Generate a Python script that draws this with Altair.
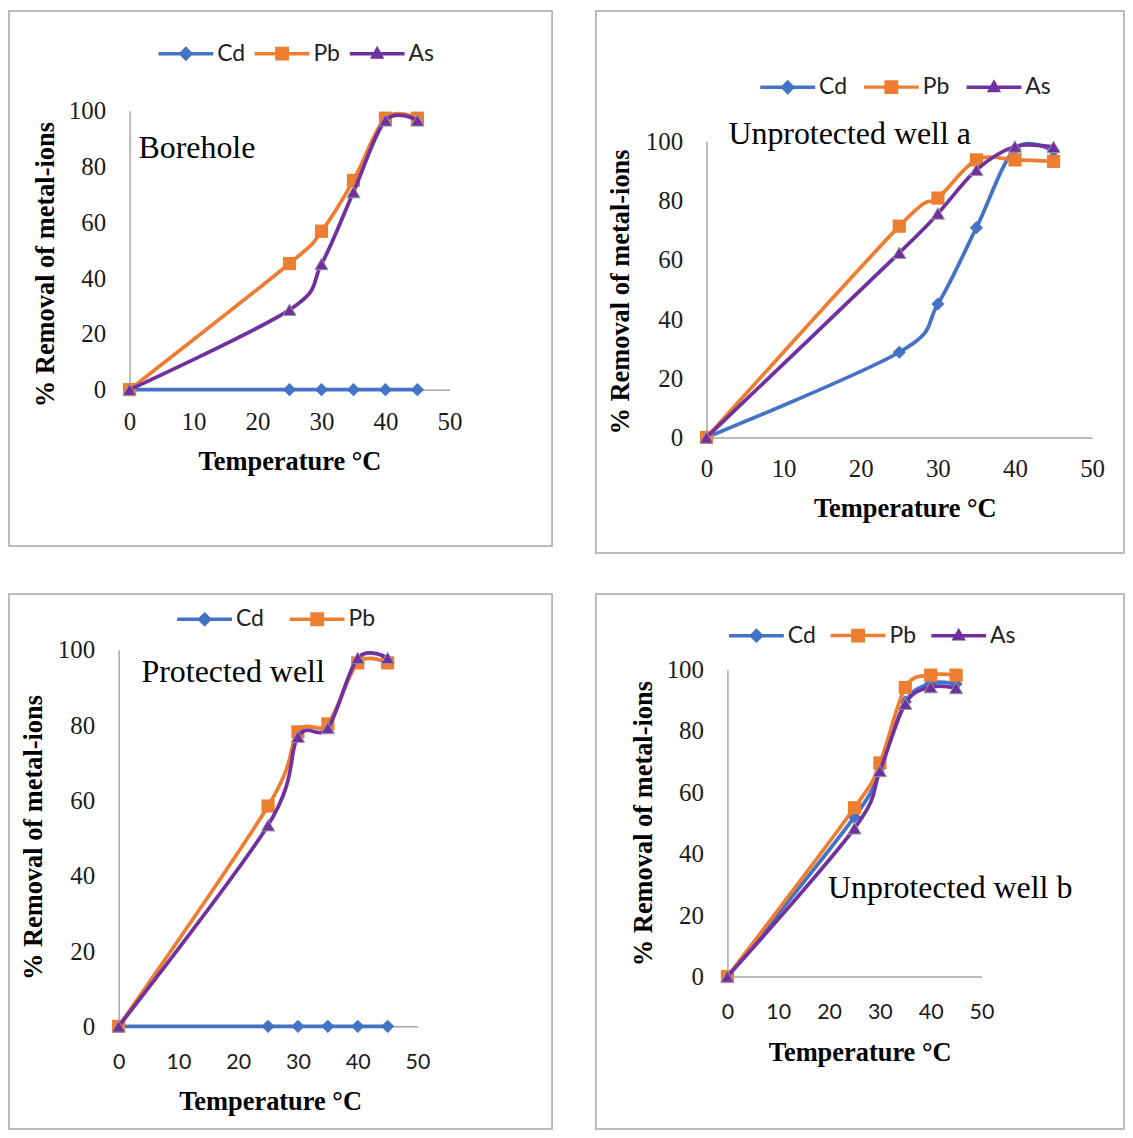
import altair as alt
import pandas as pd

# ---------------- data ----------------
temperature = [0, 25, 30, 35, 40, 45]
metals = ["Cd", "Pb", "As"]
panel_names = ["Borehole", "Unprotected well a", "Protected well", "Unprotected well b"]

borehole_cd = [0, 0, 0, 0, 0, 0]
borehole_pb = [0, 45.2, 56.8, 75.0, 97.3, 97.3]
borehole_as = [0, 28.6, 45.0, 70.8, 96.5, 96.5]

well_a_cd = [0, 28.8, 45.1, 70.9, 97.5, 96.8]
well_a_pb = [0, 71.4, 80.9, 93.8, 93.8, 93.3]
well_a_as = [0, 62.4, 75.7, 90.4, 98.3, 98.2]

protected_cd = [0, 0, 0, 0, 0, 0]
protected_pb = [0, 58.5, 78.2, 80.3, 96.5, 96.5]
protected_as = [0, 53.4, 76.9, 79.2, 97.8, 97.8]

well_b_cd = [0, 52.0, 68.0, 89.5, 95.5, 95.3]
well_b_pb = [0, 55.0, 69.6, 94.2, 98.2, 98.2]
well_b_as = [0, 48.3, 67.0, 88.9, 94.3, 94.0]

legend_entries = {
    "Borehole": ["Cd", "Pb", "As"],
    "Unprotected well a": ["Cd", "Pb", "As"],
    "Protected well": ["Cd", "Pb"],
    "Unprotected well b": ["Cd", "Pb", "As"],
}

x_ticks = [0, 10, 20, 30, 40, 50]
y_ticks = [0, 20, 40, 60, 80, 100]
x_title = "Temperature °C"
y_title = "% Removal of metal-ions"

removal = {
    "Borehole": {"Cd": borehole_cd, "Pb": borehole_pb, "As": borehole_as},
    "Unprotected well a": {"Cd": well_a_cd, "Pb": well_a_pb, "As": well_a_as},
    "Protected well": {"Cd": protected_cd, "Pb": protected_pb, "As": protected_as},
    "Unprotected well b": {"Cd": well_b_cd, "Pb": well_b_pb, "As": well_b_as},
}

rows = []
for p in panel_names:
    for m in metals:
        for t, r in zip(temperature, removal[p][m]):
            rows.append({"panel": p, "metal": m, "T": t, "R": r})
df = pd.DataFrame(rows)

# ---------------- styles ----------------
COLORS = {"Cd": "#4472C4", "Pb": "#ED7D31", "As": "#7030A0"}
SHAPES = {"Cd": "diamond", "Pb": "square", "As": "triangle-up"}
LEG_PATHS = {
    "Cd": "M-2.75,0H2.75M0,-0.5L0.5,0L0,0.5L-0.5,0Z",
    "Pb": "M-2.75,0H2.75M-0.52,-0.52H0.52V0.52H-0.52Z",
    "As": "M-2.75,0H2.75M0,-0.44L0.42,0.32L-0.42,0.32Z",
}
SERIF = "Liberation Serif"
SANS = "Lato"
AXIS_GRAY = "#a6a6a6"
LINE_W = 3.75

LAYOUT = {
    "Borehole": dict(w=545, h=537, x0=121, x1=442, y0=380, y100=100,
                     ytx=-84.5, yty=254, xtx=281.5, xty=80.5,
                     xfont=SERIF, xsize=25, xpad=40,
                     tdx=130, tdy=180, lx=165.5, ly=30.4, lpad=1.5),
    "Unprotected well a": dict(w=530, h=544, x0=111, x1=498, y0=428, y100=131,
                               ytx=-86, yty=281.5, xtx=310, xty=79,
                               xfont=SERIF, xsize=25, xpad=39.4,
                               tdx=133, tdy=165, lx=180.5, ly=64, lpad=9),
    "Protected well": dict(w=545, h=537, x0=110, x1=410, y0=434, y100=56,
                           ytx=-85, yty=244, xtx=262, xty=83,
                           xfont=SANS, xsize=21.5, xpad=42.6,
                           tdx=133, tdy=120, lx=184.3, ly=13, lpad=18),
    "Unprotected well b": dict(w=530, h=537, x0=132, x1=387, y0=384, y100=76,
                               ytx=-84, yty=230, xtx=264.7, xty=84.4,
                               xfont=SANS, xsize=21.5, xpad=42,
                               tdx=233, tdy=337, lx=149.1, ly=29.4, lpad=7),
}


def make_panel(name):
    L = LAYOUT[name]
    x_enc = alt.X(
        "T:Q",
        scale=alt.Scale(domain=[0, 50], range=[L["x0"], L["x1"]], nice=False, zero=False),
        axis=alt.Axis(
            values=x_ticks, offset=L["y0"] - L["h"], grid=False, ticks=False, tickSize=0,
            domainColor=AXIS_GRAY, domainWidth=1.5,
            labelFont=L["xfont"], labelFontSize=L["xsize"], labelColor="#1a1a1a",
            labelBaseline="alphabetic", labelPadding=L["xpad"], labelFlush=False,
            labelOverlap=False,
            title=x_title, titleFont=SERIF, titleFontSize=26.5, titleFontWeight="bold",
            titleColor="black", titleX=L["xtx"], titleY=L["xty"],
            titleAlign="center", titleBaseline="alphabetic",
        ),
    )
    y_enc = alt.Y(
        "R:Q",
        scale=alt.Scale(domain=[0, 100], range=[L["y0"], L["y100"]], nice=False),
        axis=alt.Axis(
            values=y_ticks, offset=-L["x0"], grid=False, ticks=False, tickSize=0,
            domainColor=AXIS_GRAY, domainWidth=1.5,
            labelFont=SERIF, labelFontSize=25, labelColor="#1a1a1a",
            labelPadding=24, labelFlush=False, labelOverlap=False,
            title=y_title, titleFont=SERIF, titleFontSize=26.5, titleFontWeight="bold",
            titleColor="black", titleAngle=270, titleX=L["ytx"], titleY=L["yty"],
            titleAlign="center", titleBaseline="middle",
        ),
    )
    base = alt.Chart(df).transform_filter(alt.datum.panel == name)
    layers = []
    for m in metals:
        sub = base.transform_filter(alt.datum.metal == m)
        layers.append(
            sub.mark_line(interpolate="cardinal", color=COLORS[m], strokeWidth=LINE_W)
            .encode(x=x_enc, y=y_enc)
        )
        pt_kwargs = dict(shape=SHAPES[m], filled=True, size=175, color=COLORS[m], opacity=1)
        if m == "As":
            pt_kwargs.update(stroke="#9a9a9a", strokeWidth=1)
        layers.append(sub.mark_point(**pt_kwargs).encode(x=x_enc, y=y_enc))

    entries = legend_entries[name]
    leg = alt.Legend(
        orient="none", legendX=L["lx"], legendY=L["ly"], direction="horizontal",
        columns=len(entries), title=None, padding=0,
        symbolSize=400, symbolStrokeWidth=3.5, symbolOpacity=1,
        labelFont=SANS, labelFontSize=23, labelColor="#222222",
        labelOffset=19.5, columnPadding=L["lpad"],
    )
    legend_layer = (
        base.transform_filter("false")
        .mark_point(filled=True, opacity=1, size=400, strokeWidth=3.5)
        .encode(
            fill=alt.Fill("metal:N", scale=alt.Scale(domain=entries, range=[COLORS[e] for e in entries]), legend=leg),
            stroke=alt.Stroke("metal:N", scale=alt.Scale(domain=entries, range=[COLORS[e] for e in entries]), legend=leg),
            shape=alt.Shape("metal:N", scale=alt.Scale(domain=entries, range=[LEG_PATHS[e] for e in entries]), legend=leg),
        )
    )
    layers.append(legend_layer)

    return alt.layer(*layers).properties(
        width=L["w"], height=L["h"],
        title=alt.TitleParams(
            text=name, anchor="start", orient="top", frame="group",
            font=SERIF, fontSize=32, fontWeight="normal", color="black",
            baseline="alphabetic", offset=0, dx=L["tdx"], dy=L["tdy"],
        ),
    )


def indep(c):
    return c.resolve_scale(fill="independent", stroke="independent", shape="independent").resolve_legend(
        fill="independent", stroke="independent", shape="independent")


top = indep(alt.hconcat(make_panel(panel_names[0]), make_panel(panel_names[1]), spacing=42))
bottom = indep(alt.hconcat(make_panel(panel_names[2]), make_panel(panel_names[3]), spacing=42))

chart = (
    indep(alt.vconcat(top, bottom, spacing=39))
    .properties(padding=0, background="white")
    .configure_view(stroke=AXIS_GRAY, strokeWidth=1.5)
)

chart.save("out.html", embed_options={"renderer": "svg", "actions": False})
